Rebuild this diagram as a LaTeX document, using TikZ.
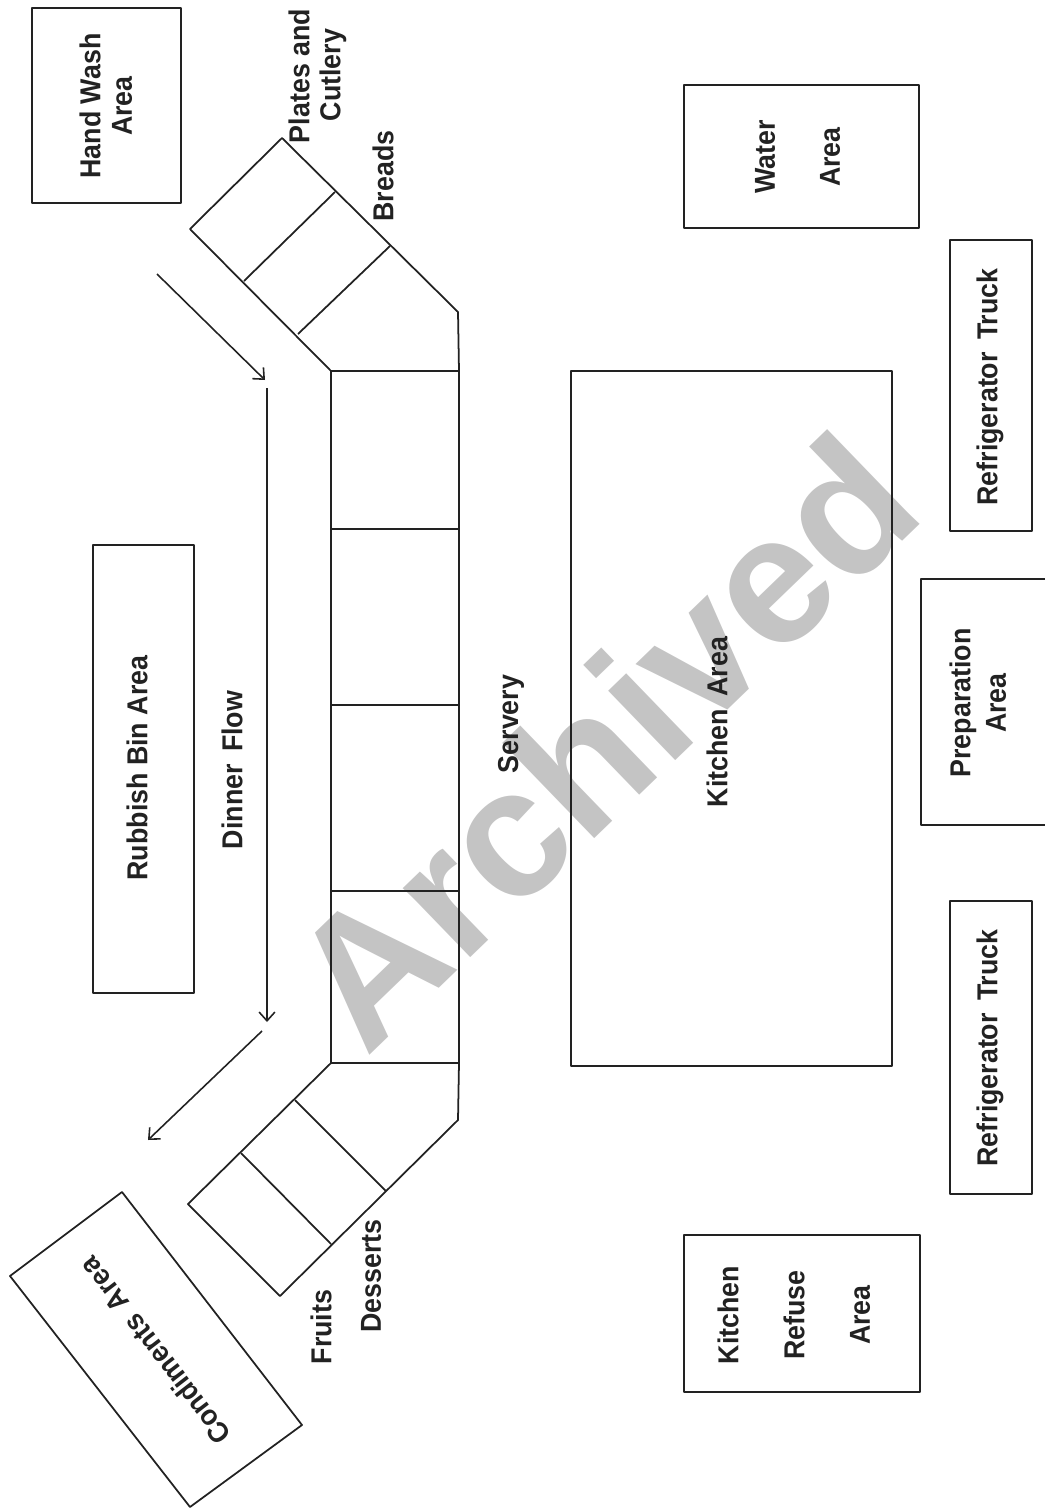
\documentclass[tikz,border=0pt]{standalone}
\usepackage{fontspec}
\newfontfamily\lblfont{Liberation Sans Bold}[FakeStretch=0.93]
\newfontfamily\markfont{Liberation Sans Bold}
\usepackage{tikz}
\usetikzlibrary{arrows.meta}
\definecolor{inkline}{HTML}{222222}
\definecolor{markgray}{HTML}{C4C4C4}
\tikzset{
  planline/.style={inkline,line width=1pt,line join=round},
  flowline/.style={inkline,line width=0.9pt,-{Straight Barb[length=5pt,width=9pt]}},
  lbl/.style={inkline,inner sep=0pt,align=center,rotate=90,font=\fontsize{16.4}{20}\selectfont\lblfont}
}
\begin{document}
\begin{tikzpicture}[x=0.02cm,y=-0.02cm,line join=round]
  \useasboundingbox (0,0) rectangle (1045,1508);
  % watermark goes under the plan
  \node[markgray,inner sep=0pt,rotate=44,anchor=base,font=\fontsize{104}{104}\selectfont\markfont] (watermark) at (648,787) {Archived};

  % free-standing areas
  \draw[planline] (32,8) rectangle (181,203);
  \draw[planline] (684,85) rectangle (919,228);
  \draw[planline] (950,240) rectangle (1032,531);
  \draw[planline] (1045,579) -- (921,579) -- (921,825) -- (1045,825);
  \draw[planline] (950,901) rectangle (1032,1194);
  \draw[planline] (684,1235) rectangle (920,1392);
  \draw[planline] (571,371) rectangle (892,1066);
  \draw[planline] (93,545) rectangle (194,993);
  \draw[planline] (122,1192) -- (10,1276) -- (190,1507) -- (302,1425) -- cycle;

  % servery counter
  \draw[planline] (331,371) rectangle (459,1063);
  \draw[planline] (331,529) -- (459,529);
  \draw[planline] (331,705) -- (459,705);
  \draw[planline] (331,891) -- (459,891);

  % upper wing
  \draw[planline] (331,371) -- (190,229) -- (282,138) -- (458,312) -- (459,371);
  \draw[planline] (244,281) -- (335,192);
  \draw[planline] (298,334) -- (390,246);

  % lower wing
  \draw[planline] (331,1063) -- (188,1204) -- (280,1296) -- (458,1120) -- (459,1063);
  \draw[planline] (295,1100) -- (386,1191);
  \draw[planline] (241,1153) -- (331,1244);

  % flow arrows
  \coordinate (flowa) at (157,274);
  \coordinate (flowb) at (265,380);
  \coordinate (flowc) at (267,388);
  \coordinate (flowd) at (267,1022);
  \coordinate (flowe) at (262,1031);
  \coordinate (flowf) at (148,1140);
  \draw[flowline] (flowa) -- (flowb);
  \draw[flowline] (flowc) -- (flowd);
  \draw[flowline] (flowe) -- (flowf);

  \node[lbl] (handwash) at (90,106) {Hand Wash};
  \node[lbl] (handarea) at (122,106) {Area};
  \node[lbl] (plates) at (299,76) {Plates and};
  \node[lbl] (cutlery) at (333,75) {Cutlery};
  \node[lbl] (breads) at (383,176) {Breads};
  \node[lbl] (water) at (765,157) {Water};
  \node[lbl] (waterarea) at (830,157) {Area};
  \node[lbl] (truckup) at (990,387) {Refrigerator\,\ Truck};
  \node[lbl] (prep) at (963,703) {Preparation};
  \node[lbl] (preparea) at (996,703) {Area};
  \node[lbl] (truckdown) at (990,1048) {Refrigerator\,\ Truck};
  \node[lbl] (refusea) at (728,1315) {Kitchen};
  \node[lbl] (refuseb) at (794,1315) {Refuse};
  \node[lbl] (refusec) at (860,1315) {Area};
  \node[lbl] (kitchen) at (717,722) {Kitchen\,\ Area};
  \node[lbl] (servery) at (511,724) {Servery};
  \node[lbl] (dinner) at (232,770) {Dinner\,\ Flow};
  \node[lbl] (rubbish) at (137,768) {Rubbish Bin Area};
  \node[lbl] (fruits) at (321,1327) {Fruits};
  \node[lbl] (desserts) at (371,1276) {Desserts};
  \node[lbl,rotate=37.7] (condiments) at (155,1351) {Condiments\,\ Area};
\end{tikzpicture}
\end{document}
